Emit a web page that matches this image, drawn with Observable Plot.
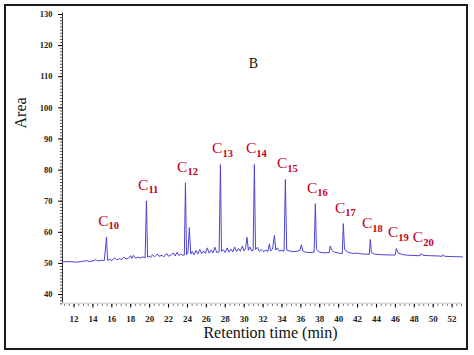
<!DOCTYPE html>
<html>
<head>
<meta charset="utf-8">
<script src="https://cdn.jsdelivr.net/npm/d3@7"></script>
<script src="https://cdn.jsdelivr.net/npm/@observablehq/plot@0.6"></script>
<style>
  body { margin: 0; background: #fff; }
  #wrap { position: relative; width: 474px; height: 355px; }
  #frame { position: absolute; left: 4px; top: 4px; width: 460px; height: 342px; border: 2px solid #1a1a1a; pointer-events: none; }
</style>
</head>
<body>
<div id="wrap"><div id="frame"></div></div>
<script>
// Chromatogram trace (retention time in min, area)
const retention = [
  10.8, 11.5, 12.2, 12.8, 13.3, 13.6, 14.0, 14.3, 14.5, 14.9, 15.2, 15.44, 15.55, 15.8, 16.0, 16.3, 16.5, 16.8, 17.0, 17.3,
  17.5, 17.8, 18.0, 18.1, 18.3, 18.5, 18.8, 19.0, 19.3, 19.52, 19.66, 19.78, 19.9, 20.1, 20.3, 20.5, 20.8, 21.0, 21.3, 21.5,
  21.8, 22.0, 22.3, 22.5, 22.7, 22.9, 23.1, 23.3, 23.5, 23.67, 23.79, 23.9, 24.05, 24.2, 24.35, 24.5, 24.7, 24.9, 25.1, 25.3,
  25.5, 25.7, 25.9, 26.1, 26.3, 26.5, 26.7, 26.9, 27.1, 27.35, 27.49, 27.6, 27.8, 28.0, 28.2, 28.4, 28.6, 28.8, 29.0, 29.2,
  29.4, 29.6, 29.8, 30.0, 30.15, 30.3, 30.45, 30.6, 30.8, 30.95, 31.08, 31.2, 31.4, 31.6, 31.8, 32.0, 32.3, 32.5, 32.67, 32.8,
  33.0, 33.2, 33.35, 33.5, 33.7, 34.0, 34.22, 34.36, 34.5, 34.8, 35.2, 35.6, 35.9, 36.05, 36.2, 36.5, 37.0, 37.4, 37.53, 37.65,
  38.0, 38.5, 39.0, 39.1, 39.25, 39.5, 40.0, 40.38, 40.49, 40.62, 41.0, 41.5, 42.0, 42.5, 43.0, 43.24, 43.34, 43.46, 43.8, 44.5,
  45.5, 45.98, 46.09, 46.3, 46.8, 47.5, 48.3, 48.62, 48.73, 48.9, 49.5, 50.5, 50.95, 51.06, 51.2, 52.0, 53.1
];
const area = [
  50.5, 50.6, 50.4, 50.6, 50.9, 50.6, 50.8, 51.2, 50.8, 51.0, 50.9, 58.5, 51.0, 51.3, 50.9, 51.8, 51.2, 51.5, 51.3, 52.0,
  51.4, 51.8, 52.5, 51.6, 52.6, 51.7, 52.0, 51.7, 52.1, 51.8, 70.1, 52.0, 52.4, 51.9, 52.8, 52.1, 53.0, 52.3, 52.6, 52.1,
  53.2, 52.3, 52.8, 53.4, 52.4, 53.6, 52.5, 53.0, 52.6, 52.7, 75.9, 52.8, 53.5, 61.5, 53.0, 53.8, 52.8, 54.2, 53.0, 54.5,
  53.1, 54.0, 53.2, 55.0, 53.3, 54.3, 53.4, 55.2, 53.5, 53.7, 81.8, 53.8, 54.4, 53.5, 55.0, 53.6, 54.6, 53.7, 55.3, 53.8,
  54.8, 53.9, 55.6, 54.0, 55.0, 58.4, 54.2, 55.3, 54.0, 54.2, 81.8, 54.5, 55.2, 53.9, 54.5, 53.8, 54.3, 53.8, 56.3, 54.0,
  54.6, 59.0, 54.3, 55.0, 54.0, 54.2, 53.9, 77.0, 54.3, 54.0, 53.8, 53.9, 54.2, 56.0, 54.0, 53.6, 53.5, 53.6, 69.2, 54.5,
  53.6, 53.4, 53.5, 55.6, 54.3, 53.7, 53.3, 53.2, 62.8, 54.5, 53.6, 53.2, 53.3, 53.0, 53.0, 52.9, 57.7, 53.5, 53.0, 52.8,
  52.7, 52.7, 54.8, 53.3, 52.8, 52.6, 52.5, 52.5, 53.2, 52.6, 52.5, 52.4, 52.3, 52.8, 52.3, 52.2, 52.1
];

// Labelled n-alkane peaks
const peakTimes  = [15.44, 19.66, 23.79, 27.49, 31.08, 34.36, 37.53, 40.49, 43.34, 46.09, 48.73];
const peakAreas  = [58.5, 70.1, 75.9, 81.8, 81.8, 77.0, 69.2, 62.8, 57.7, 54.8, 53.2];
const peakLabels = ["10", "11", "12", "13", "14", "15", "16", "17", "18", "19", "20"];

const yTicks = [40, 50, 60, 70, 80, 90, 100, 110, 120, 130];
const xTicks = [12, 14, 16, 18, 20, 22, 24, 26, 28, 30, 32, 34, 36, 38, 40, 42, 44, 46, 48, 50, 52];

const trace = retention.map((t, i) => ({t, a: area[i]}));
const peaks = peakTimes.map((t, i) => ({t, a: peakAreas[i], n: peakLabels[i]}));

const xDomain = [10.78, 53.1];
const yDomain = [36.8, 130];
const serif = "Liberation Serif, Times New Roman, serif";
const red = "#c4001c";

const chart = Plot.plot({
  width: 474,
  height: 355,
  marginLeft: 62,
  marginRight: 12,
  marginTop: 14,
  marginBottom: 51,
  style: {fontFamily: serif, background: "transparent"},
  x: {domain: xDomain},
  y: {domain: yDomain},
  marks: [
    // axis lines
    Plot.ruleX([xDomain[0]], {y1: yDomain[0] + 0.4, y2: 130.5, stroke: "#333", strokeWidth: 1}),
    Plot.ruleY([yDomain[0] + 0.4], {x1: xDomain[0], x2: xDomain[1], stroke: "#bbb", strokeWidth: 0.8}),
    // y axis minor + major ticks
    Plot.axisY({ticks: d3.range(37, 131, 1), tickSize: 2, text: null, label: null, stroke: "#555"}),
    Plot.axisY({ticks: yTicks, tickSize: 4, tickPadding: 6, label: null, fontSize: 8.5, fontWeight: "bold", fill: "#222"}),
    // x axis minor + major ticks
    Plot.axisX({ticks: d3.range(11, 53.1, 0.5), tickSize: 2, text: null, label: null, stroke: "#777"}),
    Plot.axisX({ticks: xTicks, tickSize: 3.5, tickPadding: 8, label: null, fontSize: 9, fontWeight: "bold", fill: "#222"}),
    // trace
    Plot.line(trace, {x: "t", y: "a", stroke: "#4b43d6", strokeWidth: 1}),
    // peak labels
    Plot.text(peaks, {x: "t", y: "a", text: () => "C", textAnchor: "end", dx: 2, dy: -16, fontSize: 15.5, fill: red, fontFamily: serif}),
    Plot.text(peaks, {x: "t", y: "a", text: "n", textAnchor: "start", dx: 2, dy: -11, fontSize: 10.5, fontWeight: "bold", fill: red, fontFamily: serif}),
    // titles
    Plot.text(["B"], {frameAnchor: "top", dx: -9, dy: 44, fontSize: 14, fill: "#111", fontFamily: serif}),
    Plot.text(["Area"], {frameAnchor: "left", rotate: -90, dx: -42, dy: -31, fontSize: 16, fill: "#111", fontFamily: serif}),
    Plot.text(["Retention time (min)"], {frameAnchor: "bottom", dx: 8, dy: 33, fontSize: 16, fill: "#111", fontFamily: serif})
  ]
});
document.getElementById("wrap").prepend(chart);
</script>
</body>
</html>
